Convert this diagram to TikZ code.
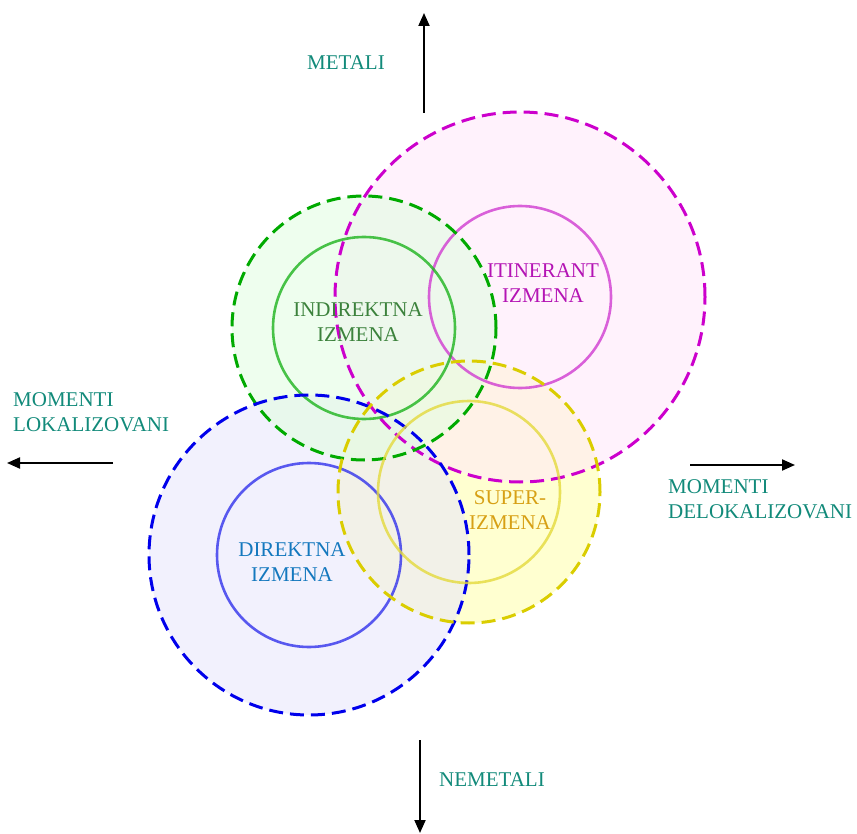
\documentclass[tikz,border=0pt]{standalone}
\usepackage{fontspec}
\setmainfont{Liberation Serif}
\usetikzlibrary{arrows.meta}

% colours
\definecolor{axisteal}{RGB}{18,138,122}
\definecolor{magline}{RGB}{204,0,204}
\definecolor{maginner}{RGB}{208,60,208}
\definecolor{magfill}{RGB}{255,232,250}
\definecolor{magtext}{RGB}{180,20,180}
\definecolor{grnline}{RGB}{0,170,0}
\definecolor{grninner}{RGB}{30,180,30}
\definecolor{grnfill}{RGB}{226,253,226}
\definecolor{grntext}{RGB}{60,130,60}
\definecolor{bluline}{RGB}{0,0,235}
\definecolor{bluinner}{RGB}{50,50,235}
\definecolor{blufill}{RGB}{232,230,252}
\definecolor{blutext}{RGB}{20,120,190}
\definecolor{yelline}{RGB}{218,205,0}
\definecolor{yelinner}{RGB}{228,218,60}
\definecolor{yelfill}{RGB}{255,255,170}
\definecolor{yeltext}{RGB}{215,160,20}

\begin{document}
\begin{tikzpicture}[x=1pt, y=-1pt,
    every node/.style={font=\fontsize{21}{25}\selectfont, inner sep=0pt, align=center},
    axisarrow/.style={line width=2pt, -{Triangle[length=13pt, width=11pt]}},
    outerring/.style={line width=3pt, dash pattern=on 14pt off 7pt},
    innerring/.style={line width=2.6pt, draw opacity=0.8}]
  \useasboundingbox (0,0) rectangle (857,834);

  % Pale fills of the outer rings (yellow lies underneath)
  \foreach \cx/\cy/\ro/\fc/\op in {469/492/131/yelfill/0.55, 520/297/185/magfill/0.55,
      309/555/160/blufill/0.55, 364/328/132/grnfill/0.6}
  {
    \fill[\fc, fill opacity=\op] (\cx,\cy) circle (\ro pt);
  }

  % Outer dashed rings and inner solid rings
  \foreach \cx/\cy/\ro/\ri/\lc/\ic in {520/297/185/91/magline/maginner,
      364/328/132/91/grnline/grninner,
      309/555/160/92/bluline/bluinner,
      469/492/131/91/yelline/yelinner}
  {
    \draw[outerring, \lc] (\cx,\cy) circle (\ro pt);
    \draw[innerring, \ic] (\cx,\cy) circle (\ri pt);
  }

  % Labels in the circles
  \node[text=grntext] (indirektna) at (358,322) {INDIREKTNA\\IZMENA};
  \node[text=magtext] (itinerant) at (543,283) {ITINERANT\\IZMENA};
  \node[text=yeltext] (super) at (510,510) {SUPER-\\IZMENA};
  \node[text=blutext] (direktna) at (292,562) {DIREKTNA\\IZMENA};

  % Axes
  \coordinate (upS) at (424,113);
  \coordinate (upE) at (424,13);
  \coordinate (downS) at (420,740);
  \coordinate (downE) at (420,833);
  \coordinate (leftS) at (113,463);
  \coordinate (leftE) at (7,463);
  \coordinate (rightS) at (690,465);
  \coordinate (rightE) at (795,465);
  \draw[axisarrow] (upS) -- (upE);
  \draw[axisarrow] (downS) -- (downE);
  \draw[axisarrow] (leftS) -- (leftE);
  \draw[axisarrow] (rightS) -- (rightE);

  % Axis labels
  \node[text=axisteal] (metali) at (346,63) {METALI};
  \node[text=axisteal] (nemetali) at (492,780) {NEMETALI};
  \node[text=axisteal, anchor=west, align=left] (lokal) at (13,412) {MOMENTI\\LOKALIZOVANI};
  \node[text=axisteal, anchor=west, align=left] (delokal) at (668,499) {MOMENTI\\DELOKALIZOVANI};
\end{tikzpicture}
\end{document}
